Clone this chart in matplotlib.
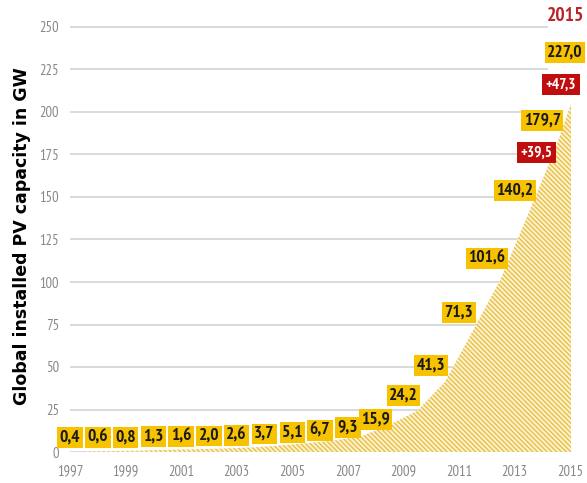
import matplotlib
matplotlib.use("Agg")
import matplotlib.pyplot as plt
from matplotlib.patches import Rectangle

# data
years = [1997, 1998, 1999, 2000, 2001, 2002, 2003, 2004, 2005, 2006,
         2007, 2008, 2009, 2010, 2011, 2012, 2013, 2014, 2015]
capacity = [0.4, 0.6, 0.8, 1.3, 1.6, 2.0, 2.6, 3.7, 5.1, 6.7,
            9.3, 15.9, 24.2, 41.3, 71.3, 101.6, 140.2, 179.7, 227.0]
added = ['+39,5', '+47,3']
yticks = [0, 25, 50, 75, 100, 125, 150, 175, 200, 225, 250]
xticks = [1997, 1999, 2001, 2003, 2005, 2007, 2009, 2011, 2013, 2015]
ylabel = 'Global installed PV capacity in GW'

narrow = ['PT Sans Narrow', 'DejaVu Sans']
yellow = '#f7c200'
red = '#c00d0d'
plt.rcParams['hatch.linewidth'] = 0.9
plt.rcParams['hatch.color'] = '#e6bc3c'

fig = plt.figure(figsize=(5.87, 4.83), dpi=100)
ax = fig.add_axes([70 / 587, 31 / 483, 514 / 587, 442 / 483])
ax.set_xlim(1997, 2015.5)
ax.set_ylim(0, 260)

# grid lines
for t in yticks[1:]:
    ax.hlines(t, 1997, 2014.2, color='#d3d3d3', lw=1.2, zorder=1)
ax.hlines(0, 1997, 2015.05, color='#d3d3d3', lw=1.2, zorder=1)

# hatched area (shifted half a year, clipped at 2015)
xs = [y + 0.5 for y in years]
area = ax.fill_between(xs, 0, capacity, facecolor='#fcf1cc', edgecolor='#e6bc3c',
                       hatch='\\' * 7, lw=0, zorder=2)
clip = Rectangle((1996, -5), 2015.05 - 1996, 300, transform=ax.transData)
area.set_clip_path(clip)

# value boxes
for yr, v in zip(years, capacity):
    if v > 20:
        ly = 8 + 1.04 * v
    else:
        ly = 8 + 0.7 * v
    lx = yr
    if yr == 2015:
        lx, ly = 2014.82, 235
    txt = ('%.1f' % v).replace('.', ',')
    ax.text(lx, ly, txt, ha='center', va='center', fontsize=12.5, fontweight='bold',
            family=narrow, color='#1a1a1a', zorder=5, clip_on=False,
            bbox=dict(boxstyle='square,pad=0.14', fc=yellow, ec='none'))

# added capacity boxes
ax.text(2013.8, 176, added[0], ha='center', va='center', fontsize=11, fontweight='bold',
        family=narrow, color='white', zorder=6, clip_on=False,
        bbox=dict(boxstyle='square,pad=0.22', fc=red, ec='none'))
ax.text(2014.67, 216, added[1], ha='center', va='center', fontsize=11, fontweight='bold',
        family=narrow, color='white', zorder=6, clip_on=False,
        bbox=dict(boxstyle='square,pad=0.22', fc=red, ec='none'))
ax.text(2014.85, 256.5, '2015', ha='center', va='center', fontsize=14, fontweight='bold',
        family=narrow, color='#b8262a', clip_on=False)

# axes styling
for s in ax.spines.values():
    s.set_visible(False)
ax.set_yticks(yticks)
ax.set_xticks(xticks)
ax.tick_params(length=0, labelsize=10.5, labelcolor='#888888')
ax.tick_params(axis='y', pad=8)
ax.tick_params(axis='x', pad=9)
for lab in ax.get_xticklabels() + ax.get_yticklabels():
    lab.set_family(narrow)

fig.text(22 / 587, 1 - 236 / 483, ylabel, rotation=90, ha='center', va='center',
         fontsize=12.5, fontweight='bold', color='black', family='DejaVu Sans')

fig.savefig('out.png', dpi=100)
